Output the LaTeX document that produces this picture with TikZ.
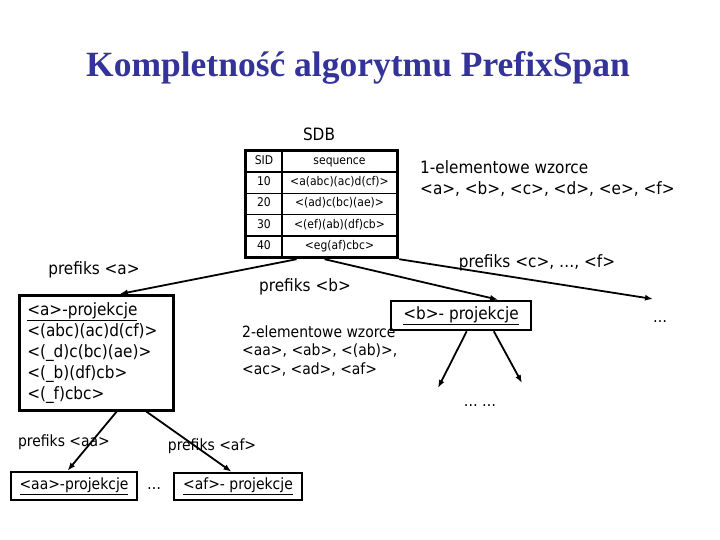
\documentclass[tikz,border=0pt]{standalone}
\usepackage{fontspec}
\setmainfont{Liberation Serif}
\newfontfamily\tahoma{DejaVu Sans Condensed}
\usepackage{tikz}
\usepackage{xcolor}
\definecolor{titleblue}{RGB}{51, 51, 153}
\usetikzlibrary{arrows.meta, positioning, fit, calc}

\tikzset{
  lbl/.style={font=\tahoma\fontsize{17}{21}\selectfont, inner sep=0pt},
  thin/.style={font=\tahoma\fontsize{15.5}{18.5}\selectfont, inner sep=0pt},
  cell/.style={draw, line width=1.4pt, inner sep=0pt, minimum height=21.2pt,
    text height=8.5pt, text depth=2.5pt, font=\tahoma\fontsize{12}{14}\selectfont},
  projbox/.style={draw, line width=2.6pt, inner sep=0pt},
  link/.style={-{Latex[length=8pt, width=6pt]}, line width=1.8pt}
}

\begin{document}
\begin{tikzpicture}[x=1pt, y=-1pt]
  \useasboundingbox (0,0) rectangle (720,540);
  % Title
  \node[font=\bfseries\fontsize{35.5}{40}\selectfont, text=titleblue] (title) at (358,68)
    {Kompletność algorytmu PrefixSpan};
  % SDB table
  \node[lbl] (sdb) at (319,134) {SDB};
  \foreach \i/\s/\q in {0/SID/sequence, 1/10/<a(abc)(ac)d(cf)>, 2/20/<(ad)c(bc)(ae)>,
                         3/30/<(ef)(ab)(df)cb>, 4/40/<eg(af)cbc>} {
    \node[cell, minimum width=36pt] (sid\i) at (264, 161.6+\i*21.2) {\s};
    \node[cell, minimum width=115pt] (seq\i) at (339.5, 161.6+\i*21.2) {\q};
  }
  \node[fit=(sid0)(seq4), draw, line width=3pt, inner sep=0pt] (tbl) {};
  % 1-element patterns
  \node[lbl, anchor=west, align=left] (onepat) at (420,179)
    {1-elementowe wzorce\\<a>, <b>, <c>, <d>, <e>, <f>};
  % Projections
  \node[projbox, anchor=north west, minimum width=154pt, minimum height=115pt,
        text width=138pt, align=left, lbl, inner xsep=8pt] (aproj) at (18,294)
    {\underline{<a>-projekcje}\\<(abc)(ac)d(cf)>\\<(\_d)c(bc)(ae)>\\<(\_b)(df)cb>\\<(\_f)cbc>};
  \node[projbox, lbl, minimum width=140pt, minimum height=29pt] (bproj) at (461,315.5)
    {\underline{<b>- projekcje}};
  \node[projbox, thin, minimum width=126pt, minimum height=28pt] (aaproj) at (74,486)
    {\underline{<aa>-projekcje}};
  \node[projbox, thin, minimum width=128pt, minimum height=27pt] (afproj) at (238,486.5)
    {\underline{<af>- projekcje}};
  % Labels
  \node[lbl] (pa) at (94,270) {prefiks <a>};
  \node[lbl] (pb) at (305,287) {prefiks <b>};
  \node[lbl] (pc) at (537,263) {prefiks <c>, …, <f>};
  \node[thin, anchor=west, align=left] (twopat) at (242,351)
    {2-elementowe wzorce\\<aa>, <ab>, <(ab)>,\\<ac>, <ad>, <af>};
  \node[thin] (paa) at (64,442) {prefiks <aa>};
  \node[thin] (paf) at (212,446) {prefiks <af>};
  \node[thin] (dotsc) at (660,322) {…};
  \node[thin] (dotsb) at (480,406) {… …};
  \node[thin] (dotsa) at (154,489) {…};
  \coordinate (cend) at (653,299);
  \coordinate (bl) at (438,388);
  \coordinate (br) at (522,383);
  % Arrows from SDB
  \draw[link] ($(tbl.south west)!0.34!(tbl.south east)$) -- ($(aproj.north west)!0.65!(aproj.north east)$);
  \draw[link] ($(tbl.south west)!0.52!(tbl.south east)$) -- ($(bproj.north west)!0.76!(bproj.north east)$);
  \draw[link] (tbl.south east) -- (cend);
  % Arrows from <b>
  \draw[link] ($(bproj.south west)!0.54!(bproj.south east)$) -- (bl);
  \draw[link] ($(bproj.south west)!0.73!(bproj.south east)$) -- (br);
  % Arrows from <a>
  \draw[link] ($(aproj.south west)!0.63!(aproj.south east)$) -- ($(aaproj.north west)!0.45!(aaproj.north east)$);
  \draw[link] ($(aproj.south west)!0.82!(aproj.south east)$) -- ($(afproj.north west)!0.45!(afproj.north east)$);
\end{tikzpicture}
\end{document}
